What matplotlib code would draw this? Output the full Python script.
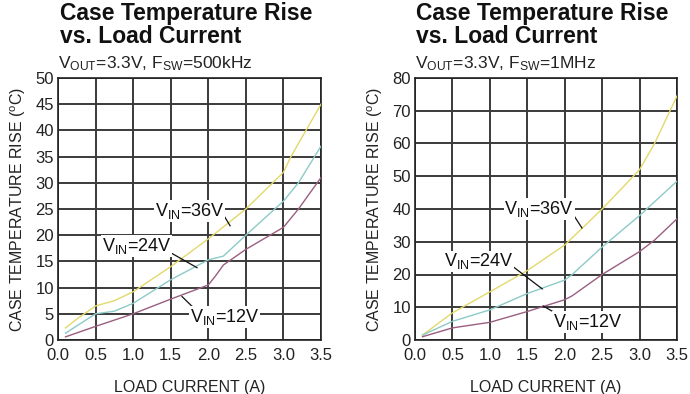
import matplotlib
matplotlib.use("Agg")
import matplotlib.pyplot as plt

plt.rcParams['font.family'] = ['Liberation Sans', 'DejaVu Sans']
plt.rcParams['mathtext.fontset'] = 'custom'
plt.rcParams['mathtext.rm'] = 'Liberation Sans'
plt.rcParams['mathtext.it'] = 'Liberation Sans'

# Data
# left: Fsw = 500kHz
i36_500 = [0.1, 0.25, 0.5, 0.75, 1.0, 1.5, 2.0, 2.5, 3.0, 3.1, 3.3, 3.5]
t36_500 = [2.3, 4.0, 6.5, 7.5, 9.2, 14.0, 19.3, 25.0, 32.0, 35.0, 40.0, 45.0]
i24_500 = [0.1, 0.5, 0.75, 1.0, 1.5, 2.0, 2.2, 2.5, 3.0, 3.2, 3.5]
t24_500 = [1.3, 5.0, 5.5, 7.0, 11.5, 15.3, 16.0, 20.0, 26.5, 30.0, 37.0]
i12_500 = [0.1, 0.5, 1.0, 1.5, 2.0, 2.1, 2.2, 2.5, 3.0, 3.2, 3.5]
t12_500 = [0.6, 2.6, 5.0, 7.8, 10.5, 12.3, 14.3, 17.3, 21.5, 25.0, 31.0]

# right: Fsw = 1MHz
i36_1m = [0.1, 0.5, 1.0, 1.5, 2.0, 2.5, 3.0, 3.2, 3.5]
t36_1m = [1.5, 8.3, 14.7, 21.2, 29.0, 40.0, 52.0, 60.0, 74.5]
i24_1m = [0.1, 0.5, 1.0, 1.5, 2.0, 2.1, 2.5, 3.0, 3.5]
t24_1m = [1.5, 5.7, 9.2, 14.2, 18.3, 20.0, 28.4, 38.0, 48.5]
i12_1m = [0.1, 0.5, 1.0, 1.5, 2.0, 2.1, 2.5, 3.0, 3.2, 3.5]
t12_1m = [1.0, 3.7, 5.4, 8.7, 12.3, 13.5, 20.0, 27.0, 30.5, 37.0]

xticks = [0.0, 0.5, 1.0, 1.5, 2.0, 2.5, 3.0, 3.5]
yticks_500 = list(range(0, 51, 5))
yticks_1m = list(range(0, 81, 10))

c36 = '#e3d96a'
c24 = '#8ccac8'
c12 = '#9a5e80'

fig = plt.figure(figsize=(6.9, 3.94), dpi=100)
W, H = 690, 394


def make_ax(x0, x1, yticks, subtitle, series, labels):
    ax = fig.add_axes([x0 / W, (H - 340) / H, (x1 - x0) / W, 262 / H])
    for xs, ys, c in series:
        ax.plot(xs, ys, color=c, lw=1.0, zorder=3)
    ax.set_xlim(0, 3.5)
    ax.set_ylim(yticks[0], yticks[-1])
    ax.set_xticks(xticks)
    ax.set_xticklabels(['%.1f' % v for v in xticks])
    ax.set_yticks(yticks)
    ax.tick_params(length=0, labelsize=12, colors='#222222')
    ax.tick_params(axis='x', pad=6)
    ax.tick_params(axis='y', pad=3)
    ax.grid(True, color='#3a3a3a', lw=1.4, zorder=1)
    for s in ax.spines.values():
        s.set_color('#222222')
        s.set_linewidth(1.2)
    ax.set_xlabel('LOAD CURRENT (A)', fontsize=11.5, color='#222222', labelpad=12)
    ax.set_ylabel('CASE TEMPERATURE RISE ($^{\\mathrm{o}}$C)', fontsize=11.5,
                  color='#222222', labelpad=5)
    ax.text(0, 1.02, subtitle, transform=ax.transAxes, fontsize=12.5,
            color='#222222', ha='left', va='bottom')
    for txt, tx, ty, lx0, ly0, lx1, ly1 in labels:
        ax.plot([lx0, lx1], [ly0, ly1], color='#111111', lw=0.9, zorder=4)
        ax.text(tx, ty, txt, fontsize=13, color='#111111', ha='center',
                va='center', zorder=5,
                bbox=dict(facecolor='white', edgecolor='none', pad=0.5))
    return ax


make_ax(58, 321, yticks_500, 'V$_{\\mathrm{OUT}}$=3.3V, F$_{\\mathrm{SW}}$=500kHz',
        [(i36_500, t36_500, c36), (i24_500, t24_500, c24), (i12_500, t12_500, c12)],
        [('V$_{\\mathrm{IN}}$=36V', 1.75, 24.6, 2.18, 24.4, 2.29, 21.8),
         ('V$_{\\mathrm{IN}}$=24V', 1.05, 17.9, 1.47, 16.9, 1.85, 13.8),
         ('V$_{\\mathrm{IN}}$=12V', 2.22, 4.4, 1.8, 6.2, 1.65, 8.3)])

make_ax(415, 677, yticks_1m, 'V$_{\\mathrm{OUT}}$=3.3V, F$_{\\mathrm{SW}}$=1MHz',
        [(i36_1m, t36_1m, c36), (i24_1m, t24_1m, c24), (i12_1m, t12_1m, c12)],
        [('V$_{\\mathrm{IN}}$=36V', 1.66, 40.0, 2.1, 38.8, 2.23, 34.2),
         ('V$_{\\mathrm{IN}}$=24V', 0.85, 24.0, 1.28, 22.9, 1.7, 15.6),
         ('V$_{\\mathrm{IN}}$=12V', 2.31, 5.5, 1.88, 8.2, 1.71, 10.4)])

for x in (60, 416):
    fig.text(x / W, 1 - 2 / H, 'Case Temperature Rise\nvs. Load Current',
             fontsize=16.5, fontweight='bold', color='#111111', ha='left', va='top',
             linespacing=1.0)

fig.savefig('out.png', dpi=100)
